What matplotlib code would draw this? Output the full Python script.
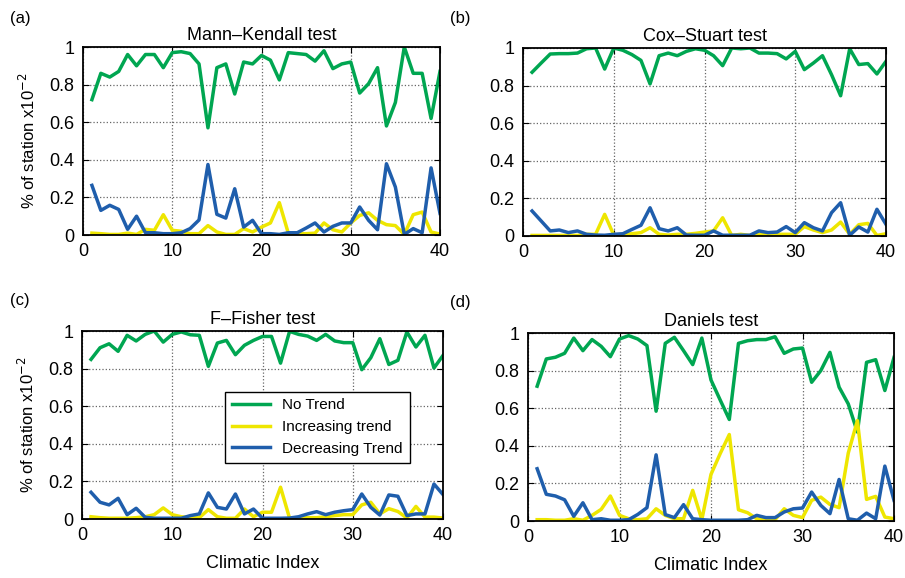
import numpy as np
import matplotlib
matplotlib.use("Agg")
import matplotlib.pyplot as plt

plt.rcParams['font.family'] = ['Liberation Sans', 'DejaVu Sans']

x = np.arange(1, 41)

# (a) Mann-Kendall
mk_no = [0.72, 0.86, 0.84, 0.87, 0.96, 0.90, 0.96, 0.96, 0.89, 0.97, 0.975, 0.965, 0.91, 0.57, 0.89, 0.91, 0.75, 0.92, 0.91, 0.955,
         0.93, 0.825, 0.97, 0.965, 0.96, 0.925, 0.98, 0.885, 0.91, 0.92, 0.755, 0.805, 0.89, 0.58, 0.705, 1.0, 0.86, 0.86, 0.62, 0.87]
mk_inc = [0.01, 0.007, 0.003, 0.003, 0.01, 0.003, 0.03, 0.025, 0.108, 0.025, 0.02, 0.007, 0.007, 0.05, 0.016, 0.003, 0.003, 0.034, 0.016, 0.042,
          0.064, 0.172, 0.01, 0.007, 0.007, 0.01, 0.064, 0.028, 0.016, 0.064, 0.104, 0.118, 0.078, 0.055, 0.05, 0.003, 0.108, 0.122, 0.016, 0.005]
mk_dec = [0.264, 0.131, 0.158, 0.136, 0.03, 0.10, 0.012, 0.012, 0.007, 0.007, 0.012, 0.034, 0.08, 0.375, 0.11, 0.09, 0.246, 0.042, 0.078, 0.007,
          0.007, 0.003, 0.012, 0.012, 0.037, 0.064, 0.016, 0.046, 0.064, 0.064, 0.149, 0.078, 0.028, 0.379, 0.255, 0.003, 0.034, 0.012, 0.357, 0.115]

# (b) Cox-Stuart
cs_no = [0.871, 0.92, 0.968, 0.97, 0.97, 0.973, 0.996, 1.0, 0.888, 1.0, 0.988, 0.965, 0.934, 0.809, 0.959, 0.973, 0.959, 0.982, 0.996, 0.988,
         0.959, 0.906, 1.0, 0.996, 1.0, 0.973, 0.973, 0.97, 0.942, 0.982, 0.885, 0.92, 0.959, 0.858, 0.746, 0.996, 0.912, 0.917, 0.862, 0.929]
cs_inc = [0.003, 0.003, 0.003, 0.003, 0.003, 0.003, 0.009, 0.009, 0.115, 0.005, 0.009, 0.012, 0.018, 0.044, 0.009, 0.005, 0.009, 0.009, 0.014, 0.021,
          0.027, 0.097, 0.003, 0.009, 0.003, 0.009, 0.009, 0.009, 0.009, 0.009, 0.05, 0.032, 0.018, 0.032, 0.074, 0.009, 0.06, 0.067, 0.003, 0.012]
cs_dec = [0.133, 0.08, 0.027, 0.032, 0.018, 0.027, 0.009, 0.005, 0.004, 0.009, 0.012, 0.035, 0.057, 0.15, 0.039, 0.027, 0.044, 0.005, 0.004, 0.004,
          0.027, 0.004, 0.004, 0.004, 0.004, 0.027, 0.018, 0.021, 0.05, 0.018, 0.071, 0.044, 0.027, 0.124, 0.177, 0.004, 0.048, 0.021, 0.142, 0.062]

# (c) F-Fisher
ff_no = [0.849, 0.911, 0.932, 0.892, 0.977, 0.947, 0.982, 1.0, 0.941, 0.982, 0.995, 0.98, 0.977, 0.812, 0.936, 0.95, 0.874, 0.924, 0.95, 0.971,
         0.971, 0.829, 0.998, 0.982, 0.973, 0.95, 0.982, 0.947, 0.938, 0.938, 0.794, 0.858, 0.959, 0.822, 0.844, 0.995, 0.915, 0.977, 0.803, 0.87]
ff_inc = [0.012, 0.007, 0.004, 0.004, 0.004, 0.007, 0.012, 0.023, 0.059, 0.023, 0.012, 0.007, 0.007, 0.05, 0.012, 0.004, 0.004, 0.053, 0.012, 0.036,
          0.036, 0.169, 0.004, 0.004, 0.007, 0.007, 0.012, 0.018, 0.023, 0.023, 0.075, 0.089, 0.027, 0.055, 0.04, 0.005, 0.067, 0.01, 0.01, 0.005]
ff_dec = [0.142, 0.089, 0.075, 0.11, 0.023, 0.057, 0.009, 0.004, 0.004, 0.004, 0.004, 0.018, 0.027, 0.139, 0.062, 0.053, 0.133, 0.027, 0.053, 0.004,
          0.004, 0.004, 0.005, 0.012, 0.027, 0.039, 0.023, 0.036, 0.044, 0.05, 0.133, 0.062, 0.021, 0.128, 0.121, 0.018, 0.027, 0.027, 0.186, 0.13]

# (d) Daniels
dn_no = [0.717, 0.862, 0.871, 0.892, 0.973, 0.906, 0.965, 0.929, 0.874, 0.968, 0.986, 0.968, 0.933, 0.584, 0.945, 0.977, 0.906, 0.832, 0.973, 0.75,
         0.644, 0.54, 0.945, 0.959, 0.965, 0.965, 0.98, 0.892, 0.915, 0.92, 0.738, 0.8, 0.897, 0.712, 0.623, 0.473, 0.844, 0.858, 0.694, 0.87]
dn_inc = [0.007, 0.007, 0.004, 0.004, 0.012, 0.004, 0.03, 0.062, 0.133, 0.03, 0.012, 0.007, 0.012, 0.065, 0.03, 0.012, 0.012, 0.163, 0.007, 0.248,
          0.358, 0.46, 0.06, 0.044, 0.012, 0.007, 0.007, 0.065, 0.03, 0.018, 0.11, 0.127, 0.088, 0.071, 0.361, 0.534, 0.115, 0.131, 0.021, 0.012]
dn_dec = [0.278, 0.142, 0.133, 0.113, 0.025, 0.097, 0.007, 0.012, 0.004, 0.004, 0.007, 0.035, 0.071, 0.352, 0.034, 0.018, 0.087, 0.012, 0.007, 0.004,
          0.004, 0.004, 0.004, 0.007, 0.03, 0.018, 0.018, 0.048, 0.065, 0.069, 0.154, 0.083, 0.039, 0.221, 0.012, 0.004, 0.042, 0.012, 0.292, 0.11]

titles = ['Mann\u2013Kendall test', 'Cox\u2013Stuart test', 'F\u2013Fisher test', 'Daniels test']
letters = ['(a)', '(b)', '(c)', '(d)']
series = [(mk_no, mk_inc, mk_dec), (cs_no, cs_inc, cs_dec), (ff_no, ff_inc, ff_dec), (dn_no, dn_inc, dn_dec)]
labels = ['No Trend', 'Increasing trend', 'Decreasing Trend']
colors = ['#00a651', '#eee600', '#1f5eac']

# axes boxes in pixels: left, top, width, height
boxes = [(83, 47, 357, 188), (523, 48, 363, 188), (82, 331, 361, 188), (528, 333, 366, 188)]
letter_pos = [(10, 18), (450, 18), (10, 300), (450, 302)]

W, H = 905, 578
fig = plt.figure(figsize=(W / 100, H / 100), dpi=100)

for i in range(4):
    l, t, w, h = boxes[i]
    ax = fig.add_axes([l / W, 1 - (t + h) / H, w / W, h / H])
    for s, c, lab in zip(series[i], colors, labels):
        ax.plot(x, s, color=c, lw=2.5, label=lab)
    ax.set_xlim(0, 40)
    ax.set_ylim(0, 1)
    ax.set_xticks([0, 10, 20, 30, 40])
    ax.set_yticks([0, 0.2, 0.4, 0.6, 0.8, 1])
    ax.set_yticklabels(['0', '0.2', '0.4', '0.6', '0.8', '1'])
    ax.tick_params(direction='in', top=True, right=True, labelsize=13, length=4, width=0.8, pad=6)
    ax.grid(True, linestyle=':', color='0.4', lw=0.9)
    for sp in ax.spines.values():
        sp.set_linewidth(1.3)
    ax.set_title(titles[i], fontsize=13, pad=5)
    if i % 2 == 0:
        ax.set_ylabel('% of station x10$^{-2}$', fontsize=12, labelpad=8)
    if i >= 2:
        ax.set_xlabel('Climatic Index', fontsize=13, labelpad=8)
    if i == 2:
        leg = ax.legend(loc='upper left', bbox_to_anchor=(0.396, 0.678), borderaxespad=0,
                        fontsize=11, fancybox=False, edgecolor='black', framealpha=1,
                        handlelength=2.5, labelspacing=0.5, borderpad=0.45)
        leg.get_frame().set_linewidth(1.0)
    fig.text(letter_pos[i][0] / W, 1 - letter_pos[i][1] / H, letters[i], fontsize=12, va='center', ha='left')

fig.savefig('out.png', dpi=100)
